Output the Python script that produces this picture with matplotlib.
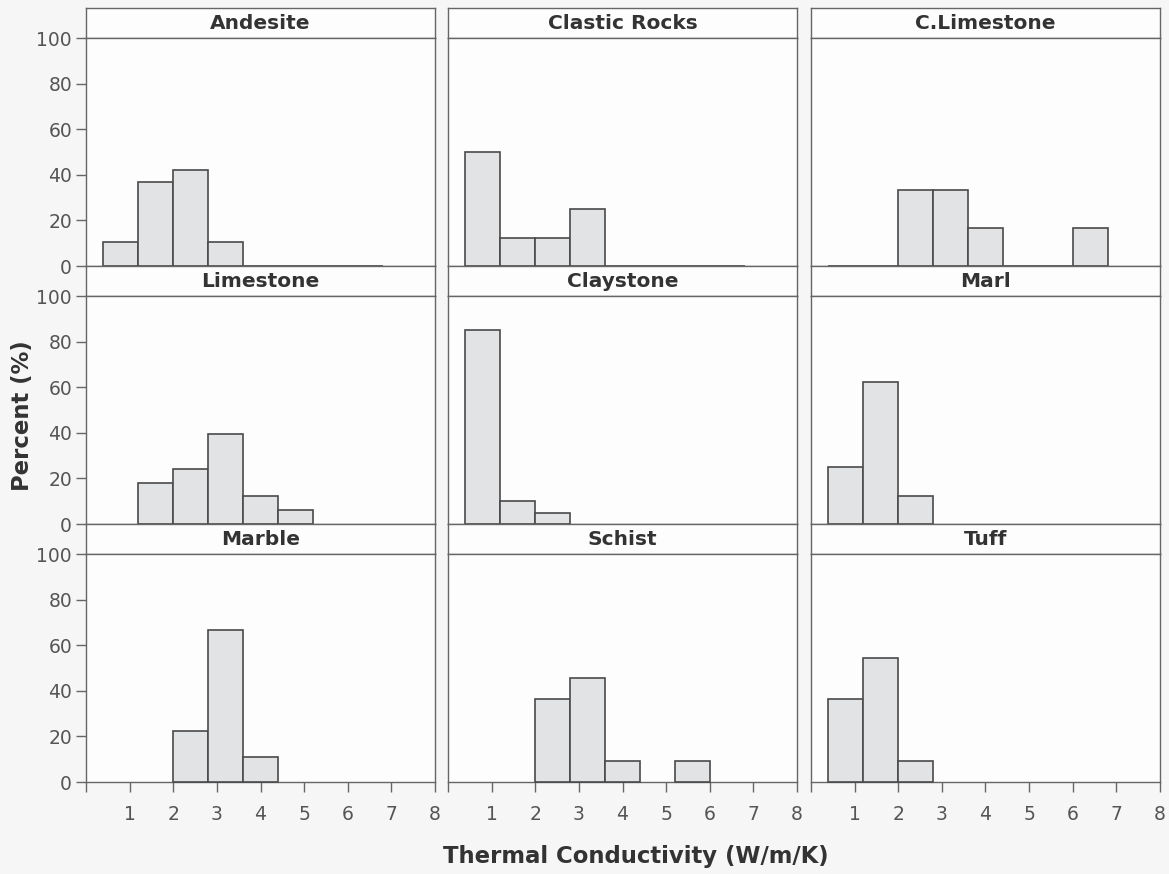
import matplotlib
matplotlib.use('Agg')
import matplotlib.pyplot as plt

# histogram bins: width 0.8 starting at 0.4 (None = no bar drawn)
bin_start = 0.4
bin_width = 0.8

rock_names = ['Andesite', 'Clastic Rocks', 'C.Limestone',
              'Limestone', 'Claystone', 'Marl',
              'Marble', 'Schist', 'Tuff']

andesite = [10.5, 36.8, 42.1, 10.5, 0, 0, 0, 0]
clastic_rocks = [50.0, 12.5, 12.5, 25.0, 0, 0, 0, 0]
c_limestone = [0, 0, 33.3, 33.3, 16.7, 0, 0, 16.7]
limestone = [None, 18.2, 24.2, 39.4, 12.1, 6.1]
claystone = [85.0, 10.0, 5.0]
marl = [25.0, 62.5, 12.5]
marble = [None, None, 22.2, 66.7, 11.1]
schist = [None, None, 36.4, 45.5, 9.1, None, 9.1]
tuff = [36.4, 54.5, 9.1]

percents = [andesite, clastic_rocks, c_limestone,
            limestone, claystone, marl,
            marble, schist, tuff]

x_ticks = [0, 1, 2, 3, 4, 5, 6, 7, 8]
x_ticklabels = ['', '1', '2', '3', '4', '5', '6', '7', '8']
y_ticks = [0, 20, 40, 60, 80, 100]

W, H = 1169, 874
fig = plt.figure(figsize=(W / 100, H / 100), dpi=100)
fig.patch.set_facecolor('#f6f6f6')

col_left = [86, 448, 811]
col_w = 349
row_top = [8, 266, 524]
strip_h = 30
data_h = 228
frame = '#666666'
txt = '#555555'

for i, name in enumerate(rock_names):
    r, c = divmod(i, 3)
    x0 = col_left[c] / W
    w = col_w / W
    # strip with panel title
    s_top = row_top[r]
    sax = fig.add_axes([x0, 1 - (s_top + strip_h) / H, w, strip_h / H])
    sax.set_facecolor('#fdfdfd')
    sax.set_xticks([])
    sax.set_yticks([])
    for sp in sax.spines.values():
        sp.set_color(frame)
        sp.set_linewidth(1.0)
    sax.text(0.5, 0.48, name, ha='center', va='center', fontsize=14.5,
             fontweight='bold', color='#333333', transform=sax.transAxes)

    # data panel
    d_top = s_top + strip_h
    ax = fig.add_axes([x0, 1 - (d_top + data_h) / H, w, data_h / H])
    ax.set_facecolor('#fdfdfd')
    vals = percents[i]
    lefts = [bin_start + k * bin_width for k, v in enumerate(vals) if v is not None]
    heights = [v for v in vals if v is not None]
    ax.bar(lefts, heights, width=bin_width, align='edge', color='#e2e3e5',
           edgecolor='#4a4a4a', linewidth=1.2, zorder=3, clip_on=False)
    ax.set_xlim(0, 8)
    ax.set_ylim(0, 100)
    for sp in ax.spines.values():
        sp.set_color(frame)
        sp.set_linewidth(1.0)
    ax.set_xticks(x_ticks)
    ax.set_yticks(y_ticks)
    ax.tick_params(colors=frame, labelcolor=txt, labelsize=13.5, width=1.0)
    if c == 0:
        ax.tick_params(axis='y', length=7, pad=3)
    else:
        ax.tick_params(axis='y', length=0, labelleft=False)
    if r == 2:
        ax.set_xticklabels(x_ticklabels)
        ax.tick_params(axis='x', length=7.5, pad=9)
    else:
        ax.tick_params(axis='x', length=0, labelbottom=False)

fig.text(23 / W, 1 - 416 / H, 'Percent (%)', rotation=90, ha='center', va='center',
         fontsize=16.4, fontweight='bold', color='#333333')
fig.text(636 / W, 1 - 857 / H, 'Thermal Conductivity (W/m/K)', ha='center', va='center',
         fontsize=16.4, fontweight='bold', color='#333333')

fig.savefig('out.png', dpi=100, facecolor=fig.get_facecolor())
